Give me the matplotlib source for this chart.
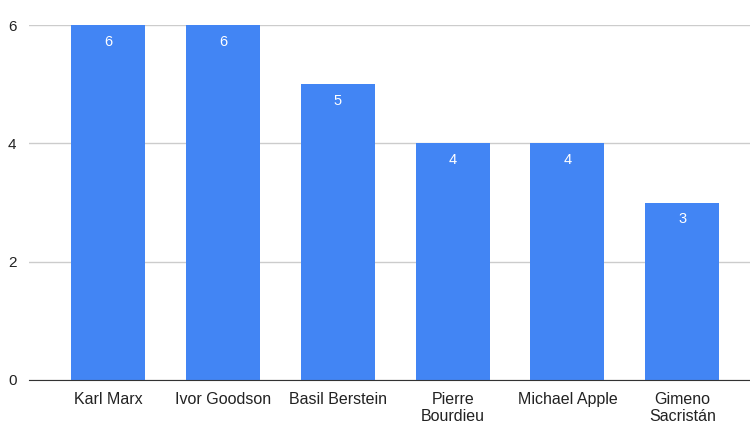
import matplotlib.pyplot as plt

authors = ["Karl Marx", "Ivor Goodson", "Basil Berstein", "Pierre\nBourdieu",
           "Michael Apple", "Gimeno\nSacristán"]
counts = [6, 6, 5, 4, 4, 3]
yticks = [0, 2, 4, 6]

plt.rcParams['font.family'] = ['Liberation Sans', 'DejaVu Sans']

fig = plt.figure(figsize=(7.5, 4.24), dpi=100)
ax = fig.add_axes([0.0387, 0.1038, 0.9613, 0.8372])

x = range(len(authors))
bars = ax.bar(x, counts, width=0.645, color='#4285F4', zorder=3)
for b, v in zip(bars, counts):
    ax.text(b.get_x() + b.get_width() / 2, v - 0.28, str(v), ha='center', va='center',
            color='white', fontsize=10.5, zorder=4)

ax.set_xlim(-0.69, 5.59)
ax.set_ylim(0, 6)
ax.set_yticks(yticks)
ax.set_xticks(list(x))
ax.set_xticklabels(authors, fontsize=11.5, color='#222222', linespacing=1.15)
ax.tick_params(axis='x', length=0, pad=9)
ax.tick_params(axis='y', length=0, pad=9, labelsize=11, labelcolor='#222222')
ax.grid(axis='y', color='#cccccc', linewidth=1, zorder=0)
for s in ['top', 'right', 'left']:
    ax.spines[s].set_visible(False)
ax.spines['bottom'].set_color('#333333')
ax.spines['bottom'].set_zorder(5)

fig.savefig('out.png', dpi=100)
